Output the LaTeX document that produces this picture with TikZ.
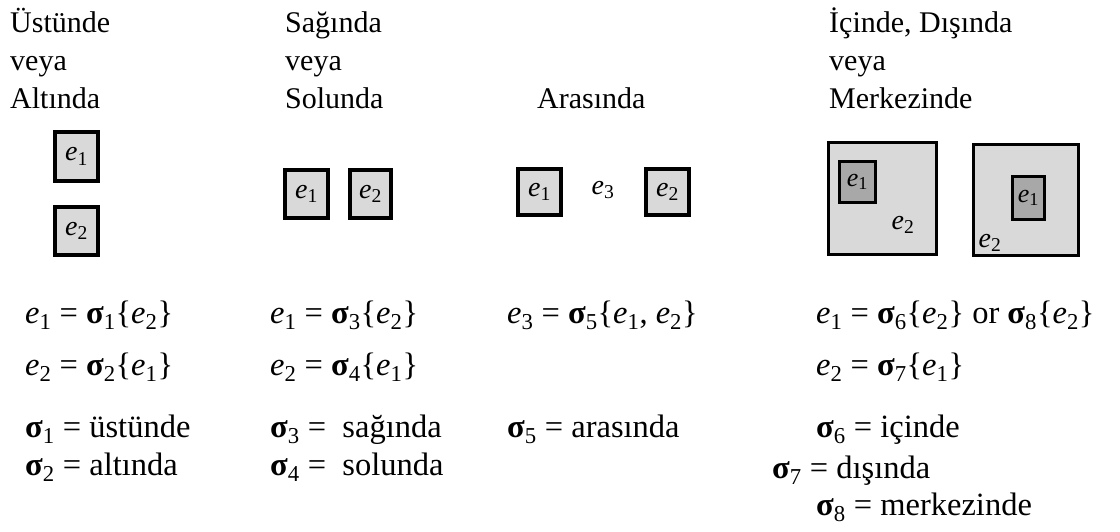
\documentclass[tikz,border=0pt]{standalone}
\usepackage{fontspec}
\setmainfont{Liberation Serif}
\definecolor{boxgray}{HTML}{D9D9D9}
\definecolor{innergray}{HTML}{A8A8A8}
\newcommand\ee[1]{\textit{e}\textsubscript{#1}}
\newcommand\sig[1]{\textbf{σ}\textsubscript{#1}}
\begin{document}
\begin{tikzpicture}[x=1pt,y=-1pt,
  hdr/.style={anchor=base west, align=left, inner sep=0pt, font=\fontsize{30}{38}\selectfont},
  eq/.style={anchor=base west, inner sep=0pt, font=\fontsize{32.5}{36}\selectfont},
  sbox/.style={draw, line width=4pt, fill=boxgray, inner sep=0pt, font=\fontsize{28}{30}\selectfont},
  bigbox/.style={draw, line width=3pt, fill=boxgray, inner sep=0pt},
  inbox/.style={draw, line width=3pt, fill=innergray, inner sep=0pt, font=\fontsize{26}{28}\selectfont},
  lbl/.style={inner sep=0pt, font=\fontsize{28}{30}\selectfont}]
\useasboundingbox (0,0) rectangle (1120,531);
% headers (base anchor = baseline of last line)
\node[hdr] (h1) at (10,108) {Üstünde\\veya\\Altında};
\node[hdr] (h2) at (285,108) {Sağında\\veya\\Solunda};
\node[hdr] (h3) at (537,108) {Arasında};
\node[hdr] (h4) at (829,108) {İçinde, Dışında\\veya\\Merkezinde};
% column 1
\node[sbox, minimum width=43pt, minimum height=49pt] (a1) at (76.5,156.5) {\ee{1}};
\node[sbox, minimum width=43pt, minimum height=48pt] (a2) at (76.5,231) {\ee{2}};
% column 2
\node[sbox, minimum width=43pt, minimum height=48pt] (b1) at (306.5,194) {\ee{1}};
\node[sbox, minimum width=41pt, minimum height=48pt] (b2) at (370.5,194) {\ee{2}};
% column 3
\node[sbox, minimum width=43pt, minimum height=46pt] (c1) at (539.5,192) {\ee{1}};
\node[lbl] (c3) at (603,190) {\ee{3}};
\node[sbox, minimum width=43pt, minimum height=46pt] (c2) at (667.5,192) {\ee{2}};
% column 4
\node[bigbox, minimum width=108pt, minimum height=112pt] (d2) at (882.5,198.5) {};
\node[inbox, minimum width=36pt, minimum height=41pt] (d1) at (857.5,182) {\ee{1}};
\node[lbl] (d2l) at (903,225) {\ee{2}};
\node[bigbox, minimum width=105pt, minimum height=111pt] (f2) at (1026,200) {};
\node[inbox, minimum width=32pt, minimum height=43pt] (f1) at (1028.5,198) {\ee{1}};
\node[lbl] (f2l) at (990,243) {\ee{2}};
% equations
\node[eq] (q1) at (25,323) {\ee{1} = \sig{1}\{\ee{2}\}};
\node[eq] (q2) at (25,375) {\ee{2} = \sig{2}\{\ee{1}\}};
\node[eq] (q3) at (25,437) {\sig{1} = üstünde};
\node[eq] (q4) at (25,475) {\sig{2} = altında};
\node[eq] (r1) at (270,323) {\ee{1} = \sig{3}\{\ee{2}\}};
\node[eq] (r2) at (270,375) {\ee{2} = \sig{4}\{\ee{1}\}};
\node[eq] (r3) at (270,437) {\sig{3} = \ sağında};
\node[eq] (r4) at (270,475) {\sig{4} = \ solunda};
\node[eq] (s1) at (507,323) {\ee{3} = \sig{5}\{\ee{1}, \ee{2}\}};
\node[eq] (s3) at (507,437) {\sig{5} = arasında};
\node[eq] (t1) at (816,323) {\ee{1} = \sig{6}\{\ee{2}\} or \sig{8}\{\ee{2}\}};
\node[eq] (t2) at (816,375) {\ee{2} = \sig{7}\{\ee{1}\}};
\node[eq] (t3) at (816,437) {\sig{6} = içinde};
\node[eq] (t4) at (772,478) {\sig{7} = dışında};
\node[eq] (t5) at (816,515) {\sig{8} = merkezinde};
\end{tikzpicture}
\end{document}
